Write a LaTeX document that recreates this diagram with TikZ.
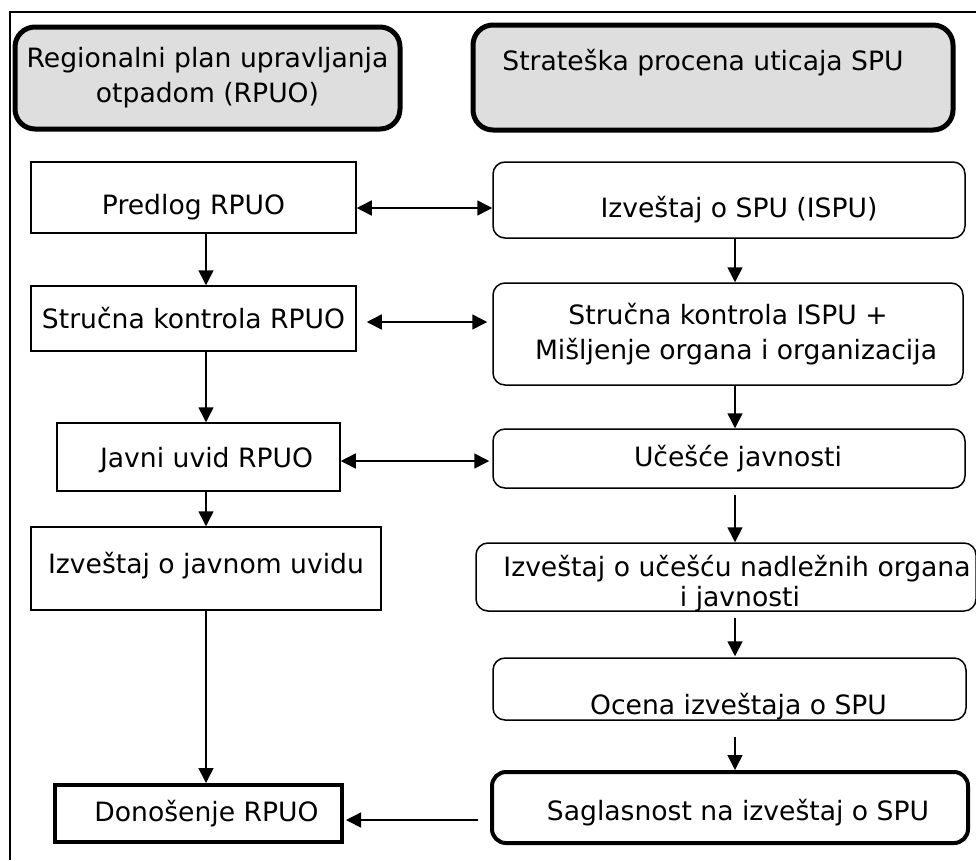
\documentclass[tikz,border=0pt]{standalone}
\usepackage{fontspec}
\setmainfont{DejaVu Sans}
\usepackage{tikz}
\usetikzlibrary{arrows.meta}

\newcommand{\pomeri}[2]{\raisebox{#1}[\height][\depth]{#2}}

\begin{document}
\begin{tikzpicture}[x=1pt, y=-1pt,
  font=\fontsize{26.6}{35}\selectfont,
  naslov/.style={draw=black, fill=black!13, line width=5pt, rounded corners=20pt, align=center, inner sep=2pt},
  korak/.style={draw=black, line width=1.5pt, align=center, inner sep=2pt},
  spukorak/.style={korak, rounded corners=12pt},
  tok/.style={-{Triangle[length=15pt,width=15pt]}, line width=1.5pt},
  dvotok/.style={{Triangle[length=15pt,width=15pt]}-{Triangle[length=15pt,width=15pt]}, line width=1.5pt}]

\useasboundingbox (0,0) rectangle (976,860);

% okvir
\draw[line width=2pt] (976,12) -- (10,12) -- (10,860);

% naslovi
\node[naslov, minimum width=385pt, minimum height=102pt](rpuo) at (207.5,78) {Regionalni plan upravljanja\\otpadom (RPUO)};
\node[naslov, minimum width=480pt, minimum height=105pt](spu) at (713,77.5) {\pomeri{15pt}{\hspace*{-20pt}Strateška procena uticaja SPU}};

% RPUO
\node[korak, minimum width=325pt, minimum height=71pt](predlog) at (193.5,197.5) {\pomeri{-10pt}{Predlog RPUO}};
\node[korak, minimum width=325pt, minimum height=65pt](kontrolar) at (193.5,318.5) {Stručna kontrola RPUO};
\node[korak, minimum width=283pt, minimum height=68pt](javni) at (198.5,457) {\pomeri{-3pt}{\hspace*{16pt}Javni uvid RPUO}};
\node[korak, minimum width=350pt, minimum height=83pt](izvjavni) at (206,568.5) {\pomeri{3pt}{Izveštaj o javnom uvidu}};
\node[korak, line width=4pt, minimum width=287pt, minimum height=57pt](donosenje) at (198.5,813.5) {\hspace*{16pt}Donošenje RPUO};

% SPU
\node[spukorak, minimum width=472pt, minimum height=76pt](ispu) at (729,200) {\pomeri{-10pt}{\hspace*{20pt}Izveštaj o SPU (ISPU)}};
\node[spukorak, minimum width=470pt, minimum height=102pt](kontrolai) at (728,334) {Stručna kontrola ISPU +\\\hspace*{16pt}Mišljenje organa i organizacija};
\node[spukorak, minimum width=472pt, minimum height=59pt](ucesce) at (729,458.5) {\hspace*{18pt}Učešće javnosti};
\node[spukorak, minimum width=500pt, minimum height=68pt](izvucesce) at (726,577) {\pomeri{-8pt}{\hspace*{22pt}Izveštaj o učešću nadležnih organa}\\[-3pt]\pomeri{-6pt}{\hspace*{28pt}i javnosti}};
\node[spukorak, minimum width=473pt, minimum height=62pt](ocena) at (729.5,689) {\pomeri{-18pt}{\hspace*{18pt}Ocena izveštaja o SPU}};
\node[spukorak, line width=4pt, rounded corners=14pt, minimum width=476pt, minimum height=71pt](saglasnost) at (730,807.5) {\pomeri{-5pt}{\hspace*{16pt}Saglasnost na izveštaj o SPU}};

\coordinate (levo) at (206,0);
\coordinate (desno) at (735,0);

% tokovi levo
\draw[tok] (predlog.south -| levo) -- (kontrolar.north -| levo);
\draw[tok] (kontrolar.south -| levo) -- (javni.north -| levo);
\draw[tok] (javni.south -| levo) -- (izvjavni.north -| levo);
\draw[tok] (izvjavni.south -| levo) -- (donosenje.north -| levo);

% tokovi desno
\draw[tok] (ispu.south -| desno) -- (kontrolai.north -| desno);
\draw[tok] (kontrolai.south -| desno) -- (ucesce.north -| desno);
\draw[tok, shorten <=6pt] (ucesce.south -| desno) -- (izvucesce.north -| desno);
\draw[tok, shorten <=6pt, shorten >=1pt] (izvucesce.south -| desno) -- (ocena.north -| desno);
\draw[tok, shorten <=16pt] (ocena.south -| desno) -- (saglasnost.north -| desno);

% veze
\draw[dvotok] ([yshift=-10.5pt]predlog.east) -- ([yshift=-8pt]ispu.west);
\draw[dvotok, shorten <=10pt, shorten >=5pt] ([yshift=-3.5pt]kontrolar.east) -- ([yshift=12pt]kontrolai.west);
\draw[dvotok, shorten >=3pt] ([yshift=-4pt]javni.east) -- ([yshift=-2.5pt]ucesce.west);
\draw[tok, shorten <=12pt, shorten >=2pt] ([yshift=-12.5pt]saglasnost.west) -- ([yshift=-6.5pt]donosenje.east);
\end{tikzpicture}
\end{document}
